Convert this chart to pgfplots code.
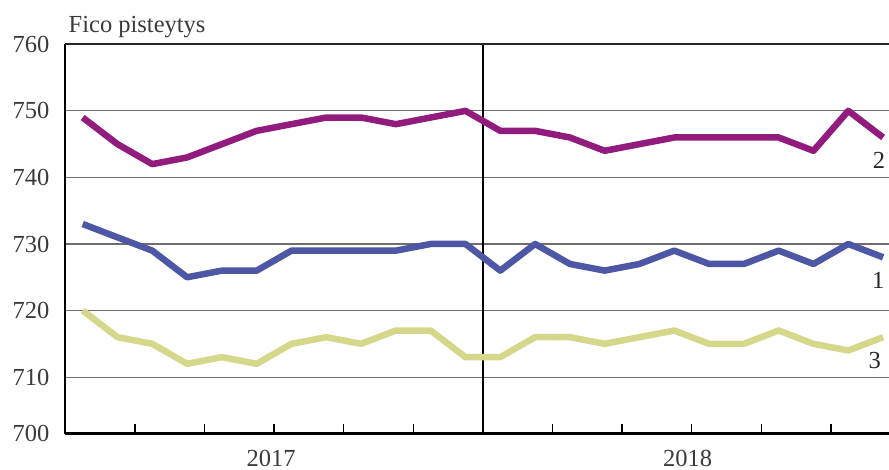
\documentclass[border=0pt]{standalone}
\usepackage{pgfplots}
\pgfplotsset{compat=1.18}
\usepackage{fontspec}
\setmainfont{Liberation Serif}

\definecolor{serPurple}{HTML}{911C7D}
\definecolor{serBlue}{HTML}{4E57A5}
\definecolor{serYellow}{HTML}{D5D88A}
\definecolor{txtGray}{HTML}{3A3A3A}
\definecolor{gridGray}{HTML}{6E6E6E}

% Monthly Fico scores, 2017-2018 (index 0 = Jan 2017)
\pgfplotstableread{
m  s1  s2  s3
0  733 749 720
1  731 745 716
2  729 742 715
3  725 743 712
4  726 745 713
5  726 747 712
6  729 748 715
7  729 749 716
8  729 749 715
9  729 748 717
10 730 749 717
11 730 750 713
12 726 747 713
13 730 747 716
14 727 746 716
15 726 744 715
16 727 745 716
17 729 746 717
18 727 746 715
19 727 746 715
20 729 746 717
21 727 744 715
22 730 750 714
23 728 746 716
}\ficodata

\begin{document}
\fontsize{24.5bp}{29bp}\selectfont
\begin{tikzpicture}
\begin{axis}[
  scale only axis,
  width=823.5bp, height=389.4bp,
  xmin=-0.494, xmax=23.17,
  ymin=701.5, ymax=760,
  axis x line=bottom, axis y line=left,
  x axis line style={-, black, line width=2.4bp},
  y axis line style={-, black, line width=2bp},
  xtick={1.5,3.5,...,21.5},
  xticklabels={},
  tick align=inside,
  major tick length=10bp,
  xtick style={black, line width=1.3bp},
  extra x ticks={11.5},
  extra x tick labels={},
  extra x tick style={xmajorgrids, grid style={black, line width=1.3bp}},
  ytick={701.5,710,720,730,740,750},
  yticklabels={700,710,720,730,740,750},
  extra y ticks={760},
  extra y tick labels={760},
  extra y tick style={grid style={black!85, line width=1.6bp}},
  ytick style={draw=none},
  ymajorgrids,
  grid style={gridGray, line width=1.2bp},
  /pgf/number format/assume math mode=true,
  yticklabel style={anchor=east, inner sep=0pt, xshift=-16bp, text=txtGray,
    font=\fontsize{24.5bp}{29bp}\selectfont},
  clip=false,
]
\addplot[serPurple, line width=6.5bp, line join=round, no marks] table[x=m, y=s2] {\ficodata};
\addplot[serBlue, line width=6.5bp, line join=round, no marks] table[x=m, y=s1] {\ficodata};
\addplot[serYellow, line width=6.5bp, line join=round, no marks] table[x=m, y=s3] {\ficodata};

\node[text=black!85] at (axis cs:22.88,742.5) {2};
\node[text=black!85] at (axis cs:22.86,724.5) {1};
\node[text=black!85] at (axis cs:22.76,712.55) {3};

\node[anchor=north, inner sep=0pt, text=txtGray, yshift=-16.5bp, xshift=-3bp] at (axis cs:5.5,701.5) {2017};
\node[anchor=north, inner sep=0pt, text=txtGray, yshift=-16.5bp, xshift=-4bp] at (axis cs:17.5,701.5) {2018};

\node[anchor=base west, inner sep=0pt, text=txtGray, xshift=3bp, yshift=12bp] at (rel axis cs:0,1) {Fico pisteytys};
\end{axis}
\pgfresetboundingbox
\path (-65.5bp,-36.3bp) rectangle (823.5bp,433.7bp);
\end{tikzpicture}
\end{document}
